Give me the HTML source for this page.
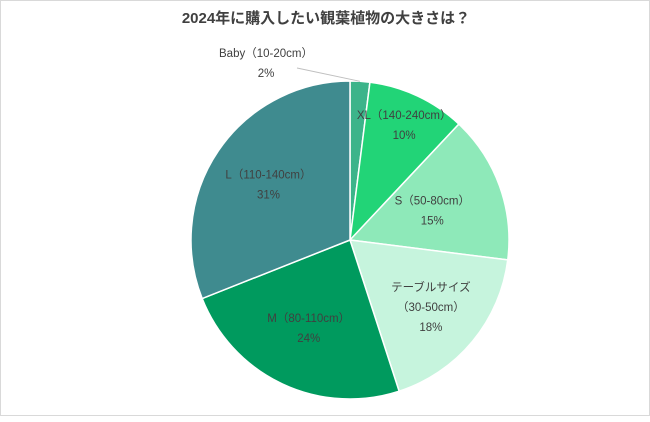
<!DOCTYPE html>
<html><head><meta charset="utf-8"><style>
body{margin:0;background:#fff}
#c{position:relative;width:650px;height:416px;border:1px solid #d9d9d9;box-sizing:border-box;font-family:"Liberation Sans","Noto Sans CJK JP",sans-serif}
text{font-family:"Liberation Sans","Noto Sans CJK JP",sans-serif}
</style></head><body>
<div id="c">
<svg id="s" width="650" height="416">
<text x="325" y="22" text-anchor="middle" font-size="15" font-weight="bold" fill="#404040">2024年に購入したい観葉植物の大きさは？</text>
</svg>
</div>
<script>
const categories=["Baby（10-20cm）","XL（140-240cm）","S（50-80cm）","テーブルサイズ（30-50cm）","M（80-110cm）","L（110-140cm）"];
const values=[2,10,15,18,24,31];
const colors=["#3cb48a","#22d477","#8ee9b9","#c6f4dd","#009a5e","#3f8b8f"];
const labelLines=[["Baby（10-20cm）","2%"],["XL（140-240cm）","10%"],["S（50-80cm）","15%"],["テーブルサイズ","（30-50cm）","18%"],["M（80-110cm）","24%"],["L（110-140cm）","31%"]];
const ns="http://www.w3.org/2000/svg",svg=document.getElementById('s');
const cx=349,cy=239,r=159;
const labelRadius=[1,0.8,0.55,0.66,0.61,0.62];
const total=values.reduce((a,b)=>a+b,0);
function pt(a,rr){return [cx+rr*Math.sin(a),cy-rr*Math.cos(a)];}
let a0=0;const labels=[];
values.forEach((v,i)=>{
 const a1=a0+v/total*2*Math.PI;
 const p0=pt(a0,r),p1=pt(a1,r),large=(a1-a0)>Math.PI?1:0;
 const p=document.createElementNS(ns,'path');
 p.setAttribute('d',`M${cx},${cy}L${p0[0]},${p0[1]}A${r},${r} 0 ${large} 1 ${p1[0]},${p1[1]}Z`);
 p.setAttribute('fill',colors[i]);p.setAttribute('stroke','#fff');p.setAttribute('stroke-width','1.5');
 
 
 svg.appendChild(p);
 labels.push([i,(a0+a1)/2]);
 a0=a1;
});
labels.forEach(([i,mid])=>{
 let lp, lines=labelLines[i];
 if(i===0){
   lp=[265,62];
   const e=pt(mid,r);
   const ln=document.createElementNS(ns,'line');
   ln.setAttribute('x1',296);ln.setAttribute('y1',67);ln.setAttribute('x2',e[0]);ln.setAttribute('y2',e[1]);
   ln.setAttribute('stroke','#bfbfbf');
   
   
   svg.appendChild(ln);
 } else lp=pt(mid,r*labelRadius[i]);
 const n=lines.length;
 lines.forEach((t,j)=>{
  const tx=document.createElementNS(ns,'text');
  tx.setAttribute('x',lp[0]);tx.setAttribute('y',lp[1]+(j-(n-1)/2)*20+4);
  tx.setAttribute('text-anchor','middle');tx.setAttribute('font-size','11.5');
  tx.setAttribute('fill','#404040');tx.textContent=t;
  
  
  svg.appendChild(tx);
 });
});
</script>
</body></html>
